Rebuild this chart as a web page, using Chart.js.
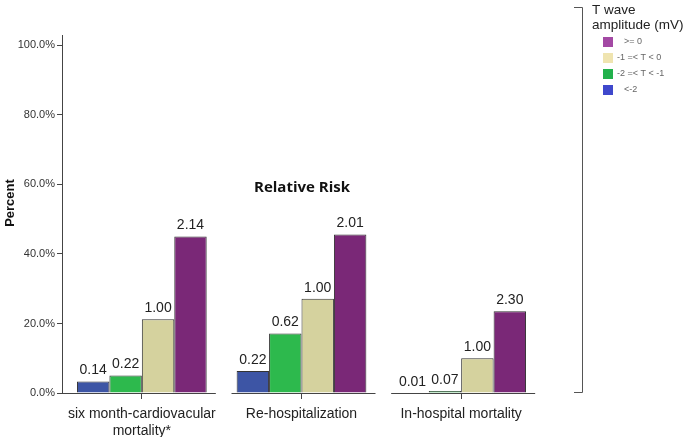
<!DOCTYPE html>
<html>
<head>
<meta charset="utf-8">
<script src="https://cdn.jsdelivr.net/npm/chart.js@4"></script>
<style>
  body { margin: 0; background: #fff; }
  #wrap { width: 685px; height: 437px; }
</style>
</head>
<body>
<div id="wrap"><canvas id="barChart" width="685" height="437"></canvas></div>
<script>
// outcome groups
const categories = [
    ['six month-cardiovacular', 'mortality*'],
    'Re-hospitalization',
    'In-hospital mortality'
];
// T wave amplitude classes (legend shows them reversed)
const seriesNames = ['<-2', '-2 =< T < -1', '-1 =< T < 0', '>= 0'];
// percent values
const lt2 = [3.3, 6.3, 0];
const m2to1 = [5.0, 17.1, 0.6];
const m1to0 = [21.2, 27.1, 10.0];
const ge0 = [45.0, 45.6, 23.5];
// relative risk labels shown above bars
const rrLt2 = ['0.14', '0.22', '0.01'];
const rrM2to1 = ['0.22', '0.62', '0.07'];
const rrM1to0 = ['1.00', '1.00', '1.00'];
const rrGe0 = ['2.14', '2.01', '2.30'];
const yTicks = [0, 20, 40, 60, 80, 100];

const barColors = ['#3d55a5', '#2db94d', '#d5d29e', '#7a2877'];
const legendColors = ['#3f48cc', '#22b14c', '#efe4b0', '#a349a4'];
const riskLabels = [rrLt2, rrM2to1, rrM1to0, rrGe0];
const seriesData = [lt2, m2to1, m1to0, ge0];

Chart.defaults.font.family = "'Liberation Sans', Arial, sans-serif";

const extras = {
    id: 'extras',
    afterDatasetsDraw(chart) {
        const ctx = chart.ctx;
        const area = chart.chartArea;
        const x = chart.scales.x;
        ctx.save();
        // value labels
        ctx.fillStyle = '#222';
        ctx.font = "14px 'Liberation Sans', Arial, sans-serif";
        ctx.textAlign = 'center';
        ctx.textBaseline = 'bottom';
        chart.data.datasets.forEach((ds, di) => {
            chart.getDatasetMeta(di).data.forEach((bar, i) => {
                ctx.fillText(riskLabels[di][i], bar.x, bar.y - 4);
            });
        });
        // baseline segments under each group
        ctx.strokeStyle = '#444';
        ctx.lineWidth = 1;
        categories.forEach((c, i) => {
            const cx = x.getPixelForValue(i);
            const left = i === 0 ? area.left : cx - 70;
            ctx.beginPath();
            ctx.moveTo(left, area.bottom + 0.5);
            ctx.lineTo(cx + 74, area.bottom + 0.5);
            ctx.stroke();
        });
        // y axis title
        ctx.save();
        ctx.translate(10, 203);
        ctx.rotate(-Math.PI / 2);
        ctx.font = "bold 13px 'Liberation Sans', Arial, sans-serif";
        ctx.fillStyle = '#111';
        ctx.textBaseline = 'middle';
        ctx.fillText('Percent', 0, 0);
        ctx.restore();
        // centre heading
        ctx.font = "bold 15px 'Open Sans', sans-serif";
        ctx.fillStyle = '#111';
        ctx.textBaseline = 'middle';
        ctx.fillText('Relative Risk', 302, 188);
        // legend bracket
        ctx.strokeStyle = '#555';
        ctx.beginPath();
        ctx.moveTo(574, 7.5);
        ctx.lineTo(582.5, 7.5);
        ctx.lineTo(582.5, 392.5);
        ctx.lineTo(574, 392.5);
        ctx.stroke();
        // legend title
        ctx.fillStyle = '#222';
        ctx.textAlign = 'left';
        ctx.font = "13.5px 'Liberation Sans', Arial, sans-serif";
        ctx.fillText('T wave', 592, 10);
        ctx.fillText('amplitude (mV)', 592, 25);
        // legend items, reversed order
        ctx.font = "9px 'Liberation Sans', Arial, sans-serif";
        for (let k = 0; k < seriesNames.length; k++) {
            const di = seriesNames.length - 1 - k;
            const cy = 42 + k * 16;
            ctx.fillStyle = legendColors[di];
            ctx.fillRect(603, cy - 5, 10, 10);
            ctx.fillStyle = '#666';
            const tx = (di === 0 || di === 3) ? 624 : 617;
            ctx.fillText(seriesNames[di], tx, cy);
        }
        ctx.restore();
    }
};

const ctx = document.getElementById('barChart').getContext('2d');
const barChart = new Chart(ctx, {
    type: 'bar',
    data: {
        labels: categories,
        datasets: seriesData.map((d, i) => ({
            label: seriesNames[i],
            data: d,
            backgroundColor: barColors[i],
            borderColor: '#333',
            borderWidth: 1,
            categoryPercentage: 0.8125,
            barPercentage: 1
        }))
    },
    options: {
        responsive: false,
        animation: false,
        layout: { padding: { left: 0, right: 144, top: 35, bottom: 0 } },
        plugins: {
            legend: { display: false },
            tooltip: { enabled: false }
        },
        scales: {
            x: {
                afterFit: s => { s.height = 44; },
                border: { display: false },
                grid: { display: true, drawOnChartArea: false, offset: false, tickLength: 6, color: '#444' },
                ticks: { color: '#222', font: { size: 14, lineHeight: 1.25 }, padding: 6, maxRotation: 0, autoSkip: false }
            },
            y: {
                min: 0,
                max: 103,
                afterFit: s => { s.width = 62; },
                afterBuildTicks: s => { s.ticks = yTicks.map(v => ({ value: v })); },
                border: { display: true, color: '#444' },
                grid: { drawOnChartArea: false, tickLength: 5, color: '#444' },
                ticks: {
                    color: '#333',
                    font: { size: 11 },
                    padding: 2,
                    callback: v => v.toFixed(1) + '%'
                }
            }
        }
    },
    plugins: [extras]
});
</script>
</body>
</html>
